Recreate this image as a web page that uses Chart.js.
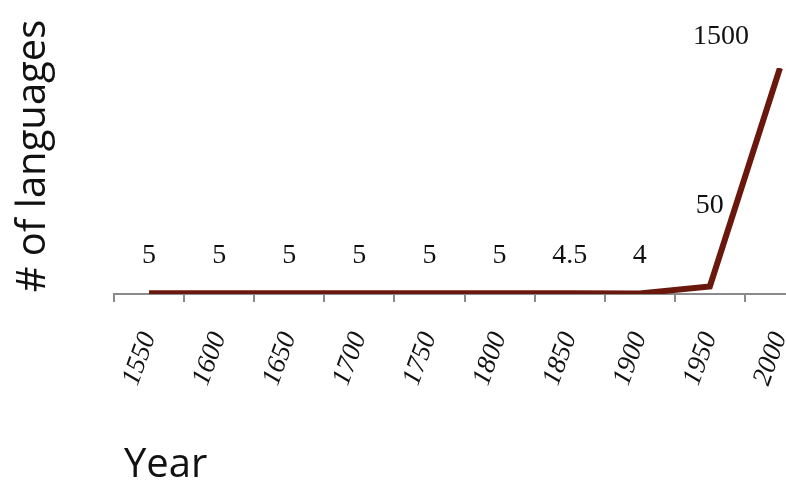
<!DOCTYPE html>
<html>
<head>
<meta charset="utf-8">
<script src="https://cdn.jsdelivr.net/npm/chart.js@4"></script>
<style>
  html, body { margin: 0; padding: 0; background: #fff; overflow: hidden; }
  #wrap { width: 830px; height: 486px; position: relative; }
</style>
</head>
<body>
<div id="wrap"><canvas id="langChart"></canvas></div>
<script>
// Chart data
const years = ["1550", "1600", "1650", "1700", "1750", "1800", "1850", "1900", "1950", "2000"];
const languageCounts = [5, 5, 5, 5, 5, 5, 4.5, 4, 50, 1500];
const valueLabels = ["5", "5", "5", "5", "5", "5", "4.5", "4", "50", "1500"];

// Label nudges (pixels, relative to the point)
const labelDx = [0, 0, 0, 0, 0, 0, 0, 0, 0, -59];
const labelDy = [-38, -38, -38, -38, -38, -38, -38, -38, -81, -31];

// Draws value labels and both axis titles
const labelPlugin = {
  id: "labelPlugin",
  afterDatasetsDraw(chart) {
    const ctx = chart.ctx;
    const meta = chart.getDatasetMeta(0);
    ctx.save();
    ctx.fillStyle = "#111";
    ctx.font = "28px 'Liberation Serif', serif";
    ctx.textAlign = "center";
    ctx.textBaseline = "middle";
    meta.data.forEach((pt, i) => {
      ctx.fillText(valueLabels[i], pt.x + labelDx[i], pt.y + labelDy[i]);
    });

    // y title
    ctx.font = "40px 'Open Sans', sans-serif";
    ctx.translate(34, 156);
    ctx.rotate(-Math.PI / 2);
    ctx.fillText("# of languages", 0, 0);
    ctx.restore();

    // x title
    ctx.save();
    ctx.fillStyle = "#111";
    ctx.font = "40px 'Open Sans', sans-serif";
    ctx.textAlign = "left";
    ctx.textBaseline = "alphabetic";
    ctx.fillText("Year", 124, 477);
    ctx.restore();
  },
};

function initializeChart() {
  const ctx = document.getElementById("langChart").getContext("2d");
  return new Chart(ctx, {
    type: "line",
    data: {
      labels: years,
      datasets: [
        {
          data: languageCounts,
          borderColor: "#6a170d",
          borderWidth: 6,
          pointRadius: 0,
          tension: 0,
          clip: 0,
        },
      ],
    },
    options: {
      responsive: true,
      maintainAspectRatio: false,
      animation: false,
      layout: {
        padding: { left: 114, right: 15, top: 68, bottom: 0 },
      },
      plugins: {
        legend: { display: false },
        tooltip: { enabled: false },
      },
      scales: {
        x: {
          offset: true,
          afterFit: (scale) => {
            scale.height = 192;
            scale.paddingLeft = 0;
            scale.paddingRight = 0;
          },
          grid: {
            offset: true,
            drawOnChartArea: false,
            drawTicks: true,
            tickLength: 8,
            color: "#8a8a8a",
            lineWidth: 2,
          },
          border: { color: "#8a8a8a", width: 2 },
          ticks: {
            color: "#111",
            font: { family: "'Liberation Serif', serif", size: 27, style: "italic" },
            minRotation: 70,
            maxRotation: 70,
            padding: 26,
            autoSkip: false,
          },
        },
        y: {
          display: false,
          min: 0,
          max: 1500,
        },
      },
    },
    plugins: [labelPlugin],
  });
}

document.addEventListener("DOMContentLoaded", function () {
  initializeChart();
});
</script>
</body>
</html>
